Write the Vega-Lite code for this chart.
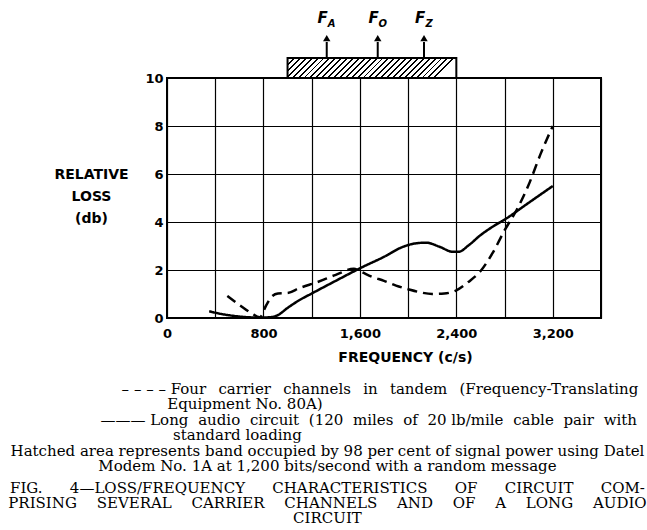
{
  "$schema": "https://vega.github.io/schema/vega-lite/v6.json",
  "width": 434,
  "height": 240,
  "autosize": {"type": "none"},
  "padding": {"left": 167, "top": 78, "right": 46, "bottom": 212},
  "background": "white",
  "config": {
    "view": {"stroke": "black", "strokeWidth": 2},
    "axis": {
      "grid": true, "gridColor": "black", "gridWidth": 1.2, "gridOpacity": 1,
      "domain": false, "ticks": false,
      "labelFont": "DejaVu Sans", "labelFontWeight": "bold", "labelFontSize": 13, "labelColor": "black",
      "titleFont": "DejaVu Sans", "titleFontWeight": "bold", "titleFontSize": 14, "titleColor": "black",
      "labelOverlap": false, "labelFlush": false
    }
  },
  "title": {
    "text": [
      "\u2060\u2003\u2003\u2003\u2003\u2003\u2003\u2003– – – – Four\u2002 carrier\u2002 channels\u2002 in\u2002 tandem\u2002 (Frequency-Translating",
      "Equipment No. 80A)\u2003\u2003\u2003\u2003\u2003\u2003\u2003\u2003\u2003\u2003\u2003\u2060",
      "\u2060\u2003\u2003\u2003\u2003\u2003\u2002——— Long\u2004 audio\u2004 circuit\u2004 (120\u2004 miles\u2004 of\u2004 20 lb/mile\u2004 cable\u2004 pair\u2004 with",
      "standard loading\u2003\u2003\u2003\u2003\u2003\u2003\u2003\u2003\u2003\u2003\u2003\u2003\u2060",
      "Hatched area represents band occupied by 98 per cent of signal power using Datel",
      "Modem No. 1A at 1,200 bits/second with a random message"
    ],
    "subtitle": [
      "FIG.\u2003\u2002 4—LOSS/FREQUENCY\u2003\u2002 CHARACTERISTICS\u2003\u2002 OF\u2003\u2002 CIRCUIT\u2003\u2002 COM-",
      "PRISING\u2003 SEVERAL\u2003 CARRIER\u2003 CHANNELS\u2003 AND\u2003 OF\u2003 A\u2003 LONG\u2003 AUDIO",
      "CIRCUIT"
    ],
    "orient": "bottom",
    "anchor": "middle",
    "frame": "bounds",
    "font": "DejaVu Serif",
    "fontSize": 15,
    "fontWeight": "normal",
    "lineHeight": 15.4,
    "color": "black",
    "subtitleFont": "DejaVu Serif",
    "subtitleFontSize": 15,
    "subtitleLineHeight": 15,
    "subtitleColor": "black",
    "subtitlePadding": 7,
    "offset": 18
  },
  "datasets": {
    "curves": [
      {"series": "carrier", "freq": 500, "loss": 0.92},
      {"series": "carrier", "freq": 600, "loss": 0.55},
      {"series": "carrier", "freq": 700, "loss": 0.2},
      {"series": "carrier", "freq": 770, "loss": 0.03},
      {"series": "carrier", "freq": 820, "loss": 0.5},
      {"series": "carrier", "freq": 870, "loss": 0.9},
      {"series": "carrier", "freq": 920, "loss": 1.02},
      {"series": "carrier", "freq": 1000, "loss": 1.04},
      {"series": "carrier", "freq": 1100, "loss": 1.25},
      {"series": "carrier", "freq": 1250, "loss": 1.5},
      {"series": "carrier", "freq": 1400, "loss": 1.8},
      {"series": "carrier", "freq": 1550, "loss": 2.05},
      {"series": "carrier", "freq": 1600, "loss": 1.95},
      {"series": "carrier", "freq": 1700, "loss": 1.72},
      {"series": "carrier", "freq": 1800, "loss": 1.55},
      {"series": "carrier", "freq": 1900, "loss": 1.35},
      {"series": "carrier", "freq": 2000, "loss": 1.2},
      {"series": "carrier", "freq": 2100, "loss": 1.07},
      {"series": "carrier", "freq": 2200, "loss": 1.0},
      {"series": "carrier", "freq": 2300, "loss": 1.02},
      {"series": "carrier", "freq": 2400, "loss": 1.15},
      {"series": "carrier", "freq": 2500, "loss": 1.5},
      {"series": "carrier", "freq": 2600, "loss": 1.95},
      {"series": "carrier", "freq": 2700, "loss": 2.7},
      {"series": "carrier", "freq": 2800, "loss": 3.65},
      {"series": "carrier", "freq": 2900, "loss": 4.5},
      {"series": "carrier", "freq": 3000, "loss": 5.55},
      {"series": "carrier", "freq": 3100, "loss": 6.85},
      {"series": "carrier", "freq": 3200, "loss": 8.0},
      {"series": "audio", "freq": 350, "loss": 0.28},
      {"series": "audio", "freq": 450, "loss": 0.17},
      {"series": "audio", "freq": 550, "loss": 0.09},
      {"series": "audio", "freq": 650, "loss": 0.04},
      {"series": "audio", "freq": 750, "loss": 0.02},
      {"series": "audio", "freq": 850, "loss": 0.03},
      {"series": "audio", "freq": 920, "loss": 0.12},
      {"series": "audio", "freq": 1000, "loss": 0.42},
      {"series": "audio", "freq": 1100, "loss": 0.75},
      {"series": "audio", "freq": 1200, "loss": 1.02},
      {"series": "audio", "freq": 1400, "loss": 1.55},
      {"series": "audio", "freq": 1600, "loss": 2.07},
      {"series": "audio", "freq": 1800, "loss": 2.55},
      {"series": "audio", "freq": 1950, "loss": 2.95},
      {"series": "audio", "freq": 2050, "loss": 3.1},
      {"series": "audio", "freq": 2150, "loss": 3.14},
      {"series": "audio", "freq": 2260, "loss": 2.97},
      {"series": "audio", "freq": 2370, "loss": 2.76},
      {"series": "audio", "freq": 2420, "loss": 2.76},
      {"series": "audio", "freq": 2500, "loss": 3.02},
      {"series": "audio", "freq": 2600, "loss": 3.45},
      {"series": "audio", "freq": 2700, "loss": 3.8},
      {"series": "audio", "freq": 2800, "loss": 4.1},
      {"series": "audio", "freq": 3000, "loss": 4.8},
      {"series": "audio", "freq": 3200, "loss": 5.5}
    ],
    "band": [{"start": 1000, "end": 2400}],
    "arrows": [
      {"freq": 1325, "sub": "A"},
      {"freq": 1748, "sub": "O"},
      {"freq": 2132, "sub": "Z"}
    ]
  },
  "layer": [
    {
      "data": {"name": "curves"},
      "mark": {"type": "line", "interpolate": "monotone", "strokeWidth": 2.5, "color": "black"},
      "encoding": {
        "x": {
          "field": "freq", "type": "quantitative",
          "scale": {"domain": [0, 3600], "nice": false, "zero": false},
          "axis": {
            "values": [0, 400, 800, 1200, 1600, 2000, 2400, 2800, 3200, 3600],
            "labelExpr": "datum.value % 800 === 0 ? format(datum.value, ',') : ''",
            "labelPadding": 9,
            "title": "FREQUENCY (c/s)",
            "titleX": 238, "titleY": 39, "titleAnchor": "middle", "titleAlign": "center", "titleBaseline": "middle"
          }
        },
        "y": {
          "field": "loss", "type": "quantitative",
          "scale": {"domain": [0, 10], "nice": false, "zero": false},
          "axis": {
            "values": [0, 2, 4, 6, 8, 10],
            "labelPadding": 4,
            "title": ["RELATIVE", "LOSS", "(db)"],
            "titleAngle": 0, "titleX": -76, "titleY": 89, "titleAlign": "center", "titleBaseline": "top", "titleLineHeight": 22
          }
        },
        "detail": {"field": "series"},
        "strokeDash": {
          "field": "series", "type": "nominal",
          "scale": {"domain": ["carrier", "audio"], "range": [[10, 6], [1, 0]]},
          "legend": null
        }
      }
    },
    {
      "data": {"name": "band"},
      "mark": {
        "type": "rect", "stroke": "black", "strokeWidth": 2,
        "fill": {
          "gradient": "linear", "x1": 0, "y1": 0, "x2": 1, "y2": 0.118,
          "stops": [
            {"offset": 0, "color": "black"}, {"offset": 0.011, "color": "black"}, {"offset": 0.011, "color": "white"},
            {"offset": 0.0345, "color": "white"}, {"offset": 0.0345, "color": "black"}, {"offset": 0.0455, "color": "black"}, {"offset": 0.0455, "color": "white"},
            {"offset": 0.069, "color": "white"}, {"offset": 0.069, "color": "black"}, {"offset": 0.08, "color": "black"}, {"offset": 0.08, "color": "white"},
            {"offset": 0.1034, "color": "white"}, {"offset": 0.1034, "color": "black"}, {"offset": 0.1144, "color": "black"}, {"offset": 0.1144, "color": "white"},
            {"offset": 0.1379, "color": "white"}, {"offset": 0.1379, "color": "black"}, {"offset": 0.1489, "color": "black"}, {"offset": 0.1489, "color": "white"},
            {"offset": 0.1724, "color": "white"}, {"offset": 0.1724, "color": "black"}, {"offset": 0.1834, "color": "black"}, {"offset": 0.1834, "color": "white"},
            {"offset": 0.2069, "color": "white"}, {"offset": 0.2069, "color": "black"}, {"offset": 0.2179, "color": "black"}, {"offset": 0.2179, "color": "white"},
            {"offset": 0.2414, "color": "white"}, {"offset": 0.2414, "color": "black"}, {"offset": 0.2524, "color": "black"}, {"offset": 0.2524, "color": "white"},
            {"offset": 0.2759, "color": "white"}, {"offset": 0.2759, "color": "black"}, {"offset": 0.2869, "color": "black"}, {"offset": 0.2869, "color": "white"},
            {"offset": 0.3103, "color": "white"}, {"offset": 0.3103, "color": "black"}, {"offset": 0.3213, "color": "black"}, {"offset": 0.3213, "color": "white"},
            {"offset": 0.3448, "color": "white"}, {"offset": 0.3448, "color": "black"}, {"offset": 0.3558, "color": "black"}, {"offset": 0.3558, "color": "white"},
            {"offset": 0.3793, "color": "white"}, {"offset": 0.3793, "color": "black"}, {"offset": 0.3903, "color": "black"}, {"offset": 0.3903, "color": "white"},
            {"offset": 0.4138, "color": "white"}, {"offset": 0.4138, "color": "black"}, {"offset": 0.4248, "color": "black"}, {"offset": 0.4248, "color": "white"},
            {"offset": 0.4483, "color": "white"}, {"offset": 0.4483, "color": "black"}, {"offset": 0.4593, "color": "black"}, {"offset": 0.4593, "color": "white"},
            {"offset": 0.4828, "color": "white"}, {"offset": 0.4828, "color": "black"}, {"offset": 0.4938, "color": "black"}, {"offset": 0.4938, "color": "white"},
            {"offset": 0.5172, "color": "white"}, {"offset": 0.5172, "color": "black"}, {"offset": 0.5282, "color": "black"}, {"offset": 0.5282, "color": "white"},
            {"offset": 0.5517, "color": "white"}, {"offset": 0.5517, "color": "black"}, {"offset": 0.5627, "color": "black"}, {"offset": 0.5627, "color": "white"},
            {"offset": 0.5862, "color": "white"}, {"offset": 0.5862, "color": "black"}, {"offset": 0.5972, "color": "black"}, {"offset": 0.5972, "color": "white"},
            {"offset": 0.6207, "color": "white"}, {"offset": 0.6207, "color": "black"}, {"offset": 0.6317, "color": "black"}, {"offset": 0.6317, "color": "white"},
            {"offset": 0.6552, "color": "white"}, {"offset": 0.6552, "color": "black"}, {"offset": 0.6662, "color": "black"}, {"offset": 0.6662, "color": "white"},
            {"offset": 0.6897, "color": "white"}, {"offset": 0.6897, "color": "black"}, {"offset": 0.7007, "color": "black"}, {"offset": 0.7007, "color": "white"},
            {"offset": 0.7241, "color": "white"}, {"offset": 0.7241, "color": "black"}, {"offset": 0.7351, "color": "black"}, {"offset": 0.7351, "color": "white"},
            {"offset": 0.7586, "color": "white"}, {"offset": 0.7586, "color": "black"}, {"offset": 0.7696, "color": "black"}, {"offset": 0.7696, "color": "white"},
            {"offset": 0.7931, "color": "white"}, {"offset": 0.7931, "color": "black"}, {"offset": 0.8041, "color": "black"}, {"offset": 0.8041, "color": "white"},
            {"offset": 0.8276, "color": "white"}, {"offset": 0.8276, "color": "black"}, {"offset": 0.8386, "color": "black"}, {"offset": 0.8386, "color": "white"},
            {"offset": 0.8621, "color": "white"}, {"offset": 0.8621, "color": "black"}, {"offset": 0.8731, "color": "black"}, {"offset": 0.8731, "color": "white"},
            {"offset": 0.8966, "color": "white"}, {"offset": 0.8966, "color": "black"}, {"offset": 0.9076, "color": "black"}, {"offset": 0.9076, "color": "white"},
            {"offset": 0.931, "color": "white"}, {"offset": 0.931, "color": "black"}, {"offset": 0.942, "color": "black"}, {"offset": 0.942, "color": "white"},
            {"offset": 0.9655, "color": "white"}, {"offset": 0.9655, "color": "black"}, {"offset": 0.9765, "color": "black"}, {"offset": 0.9765, "color": "white"},
            {"offset": 1, "color": "white"}
          ]
        }
      },
      "encoding": {
        "x": {"field": "start", "type": "quantitative"},
        "x2": {"field": "end"},
        "y": {"datum": 10, "type": "quantitative"},
        "y2": {"datum": 10.83}
      }
    },
    {
      "data": {"name": "arrows"},
      "mark": {"type": "rule", "strokeWidth": 2, "color": "black"},
      "encoding": {
        "x": {"field": "freq", "type": "quantitative"},
        "y": {"datum": 10.83, "type": "quantitative"},
        "y2": {"datum": 11.5}
      }
    },
    {
      "data": {"name": "arrows"},
      "mark": {"type": "point", "shape": "triangle-up", "filled": true, "size": 55, "color": "black", "opacity": 1},
      "encoding": {
        "x": {"field": "freq", "type": "quantitative"},
        "y": {"datum": 11.66, "type": "quantitative"}
      }
    },
    {
      "data": {"name": "arrows"},
      "mark": {"type": "text", "text": "F", "font": "DejaVu Sans", "fontStyle": "italic", "fontWeight": "bold", "fontSize": 15, "dx": -4, "baseline": "middle", "align": "center", "color": "black"},
      "encoding": {
        "x": {"field": "freq", "type": "quantitative"},
        "y": {"datum": 12.48, "type": "quantitative"}
      }
    },
    {
      "data": {"name": "arrows"},
      "mark": {"type": "text", "font": "DejaVu Sans", "fontStyle": "italic", "fontWeight": "bold", "fontSize": 10, "dx": 5, "baseline": "middle", "align": "center", "color": "black"},
      "encoding": {
        "x": {"field": "freq", "type": "quantitative"},
        "y": {"datum": 12.27, "type": "quantitative"},
        "text": {"field": "sub"}
      }
    }
  ]
}
